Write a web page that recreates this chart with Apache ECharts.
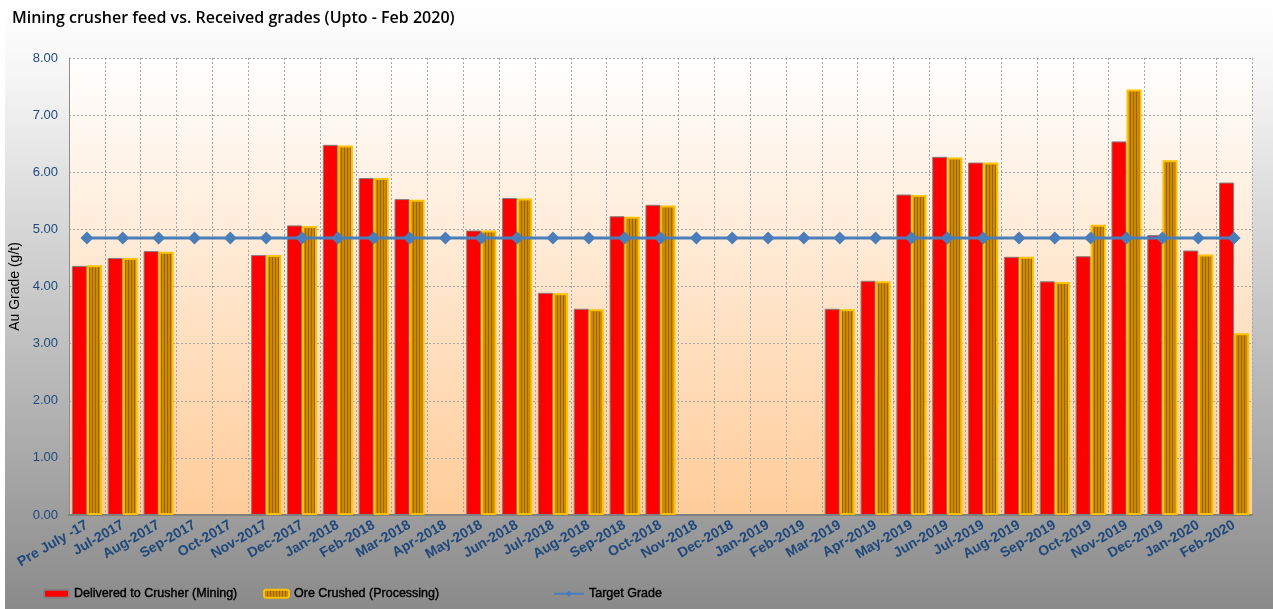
<!DOCTYPE html>
<html>
<head>
<meta charset="utf-8">
<script src="https://cdn.jsdelivr.net/npm/echarts@6/dist/echarts.min.js"></script>
<style>
  html, body { margin: 0; padding: 0; background: #ffffff; }
  #chart { position: absolute; left: 5px; top: 0; width: 1268px; height: 609px; }
</style>
</head>
<body>
<div id="chart"></div>
<script>
// Monthly gold grades (g/t): mined feed vs. crushed ore, with the target grade
const months = ['Pre July -17', 'Jul-2017', 'Aug-2017', 'Sep-2017', 'Oct-2017', 'Nov-2017', 'Dec-2017',
  'Jan-2018', 'Feb-2018', 'Mar-2018', 'Apr-2018', 'May-2018', 'Jun-2018', 'Jul-2018', 'Aug-2018',
  'Sep-2018', 'Oct-2018', 'Nov-2018', 'Dec-2018', 'Jan-2019', 'Feb-2019', 'Mar-2019', 'Apr-2019',
  'May-2019', 'Jun-2019', 'Jul-2019', 'Aug-2019', 'Sep-2019', 'Oct-2019', 'Nov-2019', 'Dec-2019',
  'Jan-2020', 'Feb-2020'];

const deliveredToCrusher = [4.36, 4.50, 4.62, null, null, 4.55, 5.07,
  6.48, 5.90, 5.53, null, 4.98, 5.55, 3.89, 3.61,
  5.23, 5.43, null, null, null, null, 3.61, 4.10,
  5.61, 6.27, 6.17, 4.52, 4.09, 4.53, 6.54, 4.90,
  4.63, 5.82];

const oreCrushed = [4.37, 4.50, 4.61, null, null, 4.55, 5.06,
  6.47, 5.90, 5.52, null, 4.98, 5.54, 3.88, 3.60,
  5.22, 5.42, null, null, null, null, 3.60, 4.09,
  5.60, 6.26, 6.17, 4.52, 4.08, 5.08, 7.45, 6.21,
  4.56, 3.18];

const targetGrade = [4.85, 4.85, 4.85, 4.85, 4.85, 4.85, 4.85,
  4.85, 4.85, 4.85, 4.85, 4.85, 4.85, 4.85, 4.85,
  4.85, 4.85, 4.85, 4.85, 4.85, 4.85, 4.85, 4.85,
  4.85, 4.85, 4.85, 4.85, 4.85, 4.85, 4.85, 4.85,
  4.85, 4.85];

const yTicks = { min: 0, max: 8, interval: 1 };

// Vertical stripe fill for the processing bars
function stripePattern() {
  const c = document.createElement('canvas');
  c.width = 3; c.height = 4;
  const g = c.getContext('2d');
  g.fillStyle = '#cc8a00';
  g.fillRect(0, 0, 3, 4);
  g.fillStyle = '#9a6200';
  g.fillRect(0, 0, 1, 4);
  return c;
}

const chart = echarts.init(document.getElementById('chart'), null, { renderer: 'canvas' });

const legendText = {
  fontFamily: 'Liberation Sans, Arial, sans-serif',
  fontSize: 12.5, color: '#000000', fontWeight: 'normal',
  textBorderColor: '#000000', textBorderWidth: 0.4
};

chart.setOption({
  animation: false,
  backgroundColor: {
    type: 'linear', x: 0, y: 0, x2: 0, y2: 1,
    colorStops: [
      { offset: 0, color: '#ffffff' },
      { offset: 0.12, color: '#f6f6f6' },
      { offset: 1, color: '#8a8a8a' }
    ]
  },
  title: {
    text: 'Mining crusher feed vs. Received grades (Upto - Feb 2020)',
    left: 7, top: 10, padding: 0,
    textStyle: { fontFamily: 'Open Sans, sans-serif', fontSize: 16, fontWeight: 600, color: '#000000' }
  },
  legend: [
    {
      data: ['Delivered to Crusher (Mining)'], left: 38, top: 587, padding: 0,
      itemWidth: 25, itemHeight: 8, itemGap: 2, textStyle: legendText
    },
    {
      data: ['Ore Crushed (Processing)'], left: 258, top: 587, padding: 0,
      itemWidth: 25, itemHeight: 8, textStyle: legendText
    },
    {
      data: ['Target Grade'], left: 548, top: 587, padding: 0,
      itemWidth: 30, itemHeight: 8, textStyle: legendText
    }
  ],
  grid: {
    left: 64, right: 21, top: 58, bottom: 94,
    outerBoundsMode: 'none',
    containLabel: false,
    show: true,
    backgroundColor: {
      type: 'linear', x: 0, y: 0, x2: 0, y2: 1,
      colorStops: [
        { offset: 0, color: '#ffffff' },
        { offset: 1, color: '#ffcc99' }
      ]
    },
    borderWidth: 0
  },
  xAxis: {
    type: 'category',
    data: months,
    axisLine: { show: true, lineStyle: { color: '#7f7f7f', width: 2 } },
    axisTick: { show: false },
    axisLabel: {
      interval: 0, rotate: 30, margin: 9,
      fontFamily: 'Liberation Sans, Arial, sans-serif', fontSize: 14, fontWeight: 'bold', color: '#1f487c'
    },
    splitLine: { show: true, interval: 0, lineStyle: { color: '#a6a6a6', type: [2, 2], width: 1 } }
  },
  yAxis: {
    type: 'value',
    min: yTicks.min, max: yTicks.max, interval: yTicks.interval,
    name: 'Au Grade (g/t)',
    nameLocation: 'middle', nameGap: 43,
    nameTextStyle: { fontFamily: 'Liberation Sans, Arial, sans-serif', fontSize: 14, color: '#000000' },
    axisLine: { show: true, lineStyle: { color: '#8c8c8c', width: 1 } },
    axisTick: { show: false },
    axisLabel: {
      formatter: v => v.toFixed(2), margin: 11,
      fontFamily: 'Liberation Sans, Arial, sans-serif', fontSize: 13, color: '#1f497d'
    },
    splitLine: { show: true, lineStyle: { color: '#a6a6a6', type: [2, 2], width: 1 } }
  },
  series: [
    {
      name: 'Delivered to Crusher (Mining)',
      type: 'bar',
      data: deliveredToCrusher,
      barGap: '0%',
      barCategoryGap: '16%',
      itemStyle: { color: '#ff0000', borderColor: '#808080', borderWidth: 1 },
      z: 2
    },
    {
      name: 'Ore Crushed (Processing)',
      type: 'bar',
      data: oreCrushed,
      itemStyle: {
        color: { image: stripePattern(), repeat: 'repeat' },
        borderColor: '#ffc000', borderWidth: 2
      },
      z: 2
    },
    {
      name: 'Target Grade',
      type: 'line',
      data: targetGrade,
      symbol: 'diamond',
      symbolSize: [13, 13],
      lineStyle: { color: '#4a7ebb', width: 3 },
      itemStyle: { color: '#4a7ebb' },
      z: 5
    }
  ]
});
</script>
</body>
</html>
